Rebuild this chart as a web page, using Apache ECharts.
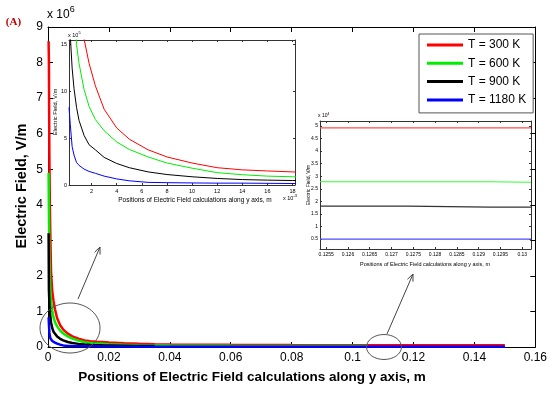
<!DOCTYPE html>
<html><head><meta charset="utf-8">
<script src="https://cdn.jsdelivr.net/npm/echarts@6/dist/echarts.min.js"></script>
<style>html,body{margin:0;padding:0;background:#fff}#c{width:550px;height:393px}</style>
</head><body><div id="c"></div>
<script>
// ---- data (positions in metres, field in V/m) ----
const xPos = [0.0002,0.0003,0.00045,0.0006,0.0008,0.001,0.0014,0.0018,0.0023,0.003,0.004,0.005,0.0065,0.008,0.010,0.012,0.014,0.016,0.018,0.020,0.025,0.030,0.035,0.040,0.060,0.080,0.105,0.125,0.150];
const red300 = [8.6e6,8.0e6,5.4e6,4.0e6,3.0e6,2.1e6,1.56e6,1.30e6,1.06e6,8.1e5,6.1e5,4.9e5,3.76e5,3.0e5,2.35e5,1.85e5,1.62e5,1.5e5,1.4e5,1.25e5,1.05e5,9.0e4,8.0e4,7.2e4,6.0e4,5.3e4,5.0e4,4.9e4,4.9e4];
const green600 = [4.9e6,3.8e6,2.8e6,2.0e6,1.5e6,1.3e6,1.02e6,8.4e5,7.0e5,5.8e5,4.6e5,3.8e5,3.0e5,2.35e5,1.8e5,1.32e5,1.1e5,9.5e4,8.8e4,8.0e4,6.5e4,5.2e4,4.5e4,4.0e4,3.3e4,3.0e4,2.8e4];
const black900 = [3.2e6,1.6e6,1.25e6,1.03e6,8.3e5,6.9e5,5.3e5,4.3e5,3.76e5,2.95e5,2.3e5,1.85e5,1.4e5,1.12e5,8.8e4,7.0e4,5.8e4,5.2e4,4.8e4,4.5e4,3.8e4,3.0e4,2.5e4];
const blue1180 = [8.3e5,6.5e5,4.1e5,3.2e5,2.4e5,2.1e5,1.7e5,1.45e5,1.25e5,9.5e4,6.5e4,4.5e4,2.8e4,2.5e4,2.2e4,2.0e4,2.0e4,1.8e4,1.6e4,1.5e4,1.2e4,1.0e4,9e3,8e3,6e3,5e3,5e3,4.8e3,4.8e3];
// right inset (zoom around y = 0.1255..0.13 m)
const rightX = [0.12536,0.12736,0.12926,0.1302];
const rightRed = [4.93e4,4.93e4,4.93e4,4.93e4];
const rightGreen = [2.78e4,2.78e4,2.76e4,2.76e4];
const rightBlack = [1.81e4,1.77e4,1.77e4,1.77e4];
const rightBlue = [0.49e4,0.49e4,0.49e4,0.49e4];
const seriesNames = ['T = 300 K','T = 600 K','T = 900 K','T = 1180 K'];
const mainColors = ['#ff0000','#00ee00','#000000','#0000ff'];
const insetColors = ['#ff4d4d','#33ff33','#333333','#4d4dff'];
const mainXTicks = [0,0.02,0.04,0.06,0.08,0.1,0.12,0.14,0.16];
const mainYTicks = [0,1,2,3,4,5,6,7,8,9];
const inset1XTicks = [2,4,6,8,10,12,14,16,18];
const inset1YTicks = [0,5,10,15];
const inset2XTicks = [0.1255,0.126,0.1265,0.127,0.1275,0.128,0.1285,0.129,0.1295,0.13];
const inset2YTicks = [0.5,1,1.5,2,2.5,3,3.5,4,4.5,5];

const FONT = 'Liberation Sans';
const mainSets = [red300, green600, black900, blue1180];
const pairs = (xs, ys, fx, fy) => ys.map((v,i)=>[fx(xs[i]), fy(v)]);

const chart = echarts.init(document.getElementById('c'), null, {renderer:'canvas'});

function axisPair(grid, min, max, ticks, fmt, fontSize, labelMargin, tickLen, lineColor, isX) {
  const base = {
    type:'value', gridIndex:grid, min:min, max:max, splitLine:{show:false},
    axisLine:{show:true, onZero:false, lineStyle:{color:lineColor, width:1}},
  };
  const a = Object.assign({}, base, {
    position: isX ? 'bottom':'left',
    axisTick:{show:true, inside:true, length:tickLen, customValues:ticks, lineStyle:{color:lineColor}},
    axisLabel:{show:true, customValues:ticks, formatter:fmt, fontFamily:FONT, fontSize:fontSize, color:'#000', margin:labelMargin, showMinLabel:true, showMaxLabel:true}
  });
  const b = Object.assign({}, base, {
    position: isX ? 'top':'right',
    axisTick:{show:true, inside:true, length:tickLen, customValues:ticks, lineStyle:{color:lineColor}},
    axisLabel:{show:false}
  });
  return [a,b];
}

const xAxes = [], yAxes = [];
xAxes.push(...axisPair(0, 0, 0.16, mainXTicks, v=>String(parseFloat(v.toFixed(2))), 12, 5, 5, '#000', true));
yAxes.push(...axisPair(0, 0, 9, mainYTicks, v=>String(Math.round(v)), 12, 5, 5, '#000', false));
xAxes.push(...axisPair(1, 0.2, 18.2, inset1XTicks, v=>String(v), 5.5, 3, 2, '#333', true));
yAxes.push(...axisPair(1, 0, 15.5, inset1YTicks, v=>String(v), 5.5, 2, 2, '#333', false));
xAxes.push(...axisPair(2, 0.12536, 0.1302, inset2XTicks, v=>String(parseFloat(v.toFixed(4))), 5, 3, 2, '#333', true));
yAxes.push(...axisPair(2, 0.1, 5.2, inset2YTicks, v=>String(v), 5, 2, 2, '#333', false));

const series = [];
// main chart
mainSets.forEach((ys,i)=>{
  series.push({type:'line', name:seriesNames[i], xAxisIndex:0, yAxisIndex:0, data:pairs(xPos, ys, x=>x, y=>y/1e6),
    symbol:'none', lineStyle:{color:mainColors[i], width:2.5}, itemStyle:{color:mainColors[i]}, z:2, animation:false, clip:true});
});
// inset 1 (x in 1e-3 m, y in 1e5 V/m)
mainSets.forEach((ys,i)=>{
  series.push({type:'line', name:seriesNames[i], xAxisIndex:2, yAxisIndex:2, data:pairs(xPos, ys, x=>x*1e3, y=>y/1e5),
    symbol:'none', lineStyle:{color:mainColors[i], width:1}, itemStyle:{color:mainColors[i]}, z:3, animation:false, clip:true});
});
// inset 2 (y in 1e4 V/m)
[rightRed,rightGreen,rightBlack,rightBlue].forEach((ys,i)=>{
  series.push({type:'line', name:seriesNames[i], xAxisIndex:4, yAxisIndex:4, data:pairs(rightX, ys, x=>x, y=>y/1e4),
    step:'end', symbol:'none', lineStyle:{color:insetColors[i], width:1.2}, itemStyle:{color:mainColors[i]}, z:3, animation:false, clip:true});
});

// annotation helpers
function arrow(x1,y1,x2,y2){
  const dx=x2-x1, dy=y2-y1, L=Math.hypot(dx,dy), ux=dx/L, uy=dy/L, h=7, w=3;
  const bx=x2-ux*h, by=y2-uy*h;
  return [
    {type:'line', shape:{x1:x1,y1:y1,x2:x2,y2:y2}, style:{stroke:'#444', lineWidth:1}, z:100},
    {type:'polyline', shape:{points:[[bx-uy*w,by+ux*w],[x2,y2],[bx+uy*w,by-ux*w]]}, style:{stroke:'#444', lineWidth:1, fill:null}, z:100}
  ];
}
const txt = (x,y,text,opts)=>({type:'text', x:x, y:y, z:100, style:Object.assign({text:text, fontFamily:FONT, fill:'#000'}, opts||{})});

const graphic = [
  txt(13.5,22,'(A)',{fontFamily:'Liberation Serif', fontWeight:'bold', fontSize:11, fill:'#c00000', align:'center', verticalAlign:'middle'}),
  {type:'text', x:47, y:15, z:100, style:{text:'x 10{s|6}', fontFamily:FONT, fontSize:12, fill:'#000', verticalAlign:'middle',
     rich:{s:{fontSize:9, fontFamily:FONT, verticalAlign:'top', padding:[0,0,10,0]}}}},
  txt(22,186,'Electric Field, V/m',{fontWeight:'bold', fontSize:14.5, align:'center', verticalAlign:'middle'}),
  txt(252,377,'Positions of Electric Field calculations along y axis, m',{fontWeight:'bold', fontSize:13.5, align:'center', verticalAlign:'middle'}),
  // inset 1 texts
  {type:'text', x:68, y:35, z:100, style:{text:'x 10{s|5}', fontFamily:FONT, fontSize:5.5, fill:'#000', verticalAlign:'middle', rich:{s:{fontSize:4, verticalAlign:'top', padding:[0,0,4,0]}}}},
  txt(195,200,'Positions of Electric Field calculations along y axis, m',{fontSize:6.5, align:'center', verticalAlign:'middle'}),
  {type:'text', x:283, y:198, z:100, style:{text:'x 10{s|-3}', fontFamily:FONT, fontSize:5.5, fill:'#000', verticalAlign:'middle', rich:{s:{fontSize:4, verticalAlign:'top', padding:[0,0,4,0]}}}},
  // inset 2 texts
  {type:'text', x:318, y:116, z:100, style:{text:'x 10{s|4}', fontFamily:FONT, fontSize:5, fill:'#000', verticalAlign:'middle', rich:{s:{fontSize:3.5, verticalAlign:'top', padding:[0,0,4,0]}}}},
  txt(425,264,'Positions of Electric Field calculations along y axis, m',{fontSize:5.5, align:'center', verticalAlign:'middle'}),
  // ellipses
  {type:'ellipse', shape:{cx:70, cy:328, rx:30, ry:25}, style:{stroke:'#555', lineWidth:1, fill:null}, z:100},
  {type:'ellipse', shape:{cx:384, cy:347, rx:17.5, ry:12.5}, style:{stroke:'#555', lineWidth:1, fill:null}, z:100},
  ...arrow(78,299,100,247),
  ...arrow(387,334,413,274)
];
// rotated inset y labels
graphic.push({type:'text', x:55, y:112, rotation:Math.PI/2, z:100, style:{text:'Electric Field, V/m', fontFamily:FONT, fontSize:5.8, fill:'#000', align:'center', verticalAlign:'middle'}});
graphic.push({type:'text', x:309, y:185, rotation:Math.PI/2, z:100, style:{text:'Electric Field, V/m', fontFamily:FONT, fontSize:5, fill:'#000', align:'center', verticalAlign:'middle'}});
graphic[2].rotation = Math.PI/2;

chart.setOption({
  animation:false,
  backgroundColor:'#fff',
  grid:[
    {left:48, top:27, width:490, height:320},
    {left:69, top:40, width:226, height:145},
    {left:320, top:121, width:211, height:128}
  ],
  xAxis:xAxes, yAxis:yAxes,
  legend:{
    data:seriesNames, orient:'vertical', left:419, top:34, icon:'rect', itemWidth:36, itemHeight:3, itemGap:4.3,
    padding:[4,7,6,8], borderColor:'#555', borderWidth:1, backgroundColor:'#fff', selectedMode:false, z:50,
    textStyle:{fontFamily:FONT, fontSize:12, color:'#000', lineHeight:14}
  },
  series:series,
  graphic:graphic
});
</script>
</body></html>
